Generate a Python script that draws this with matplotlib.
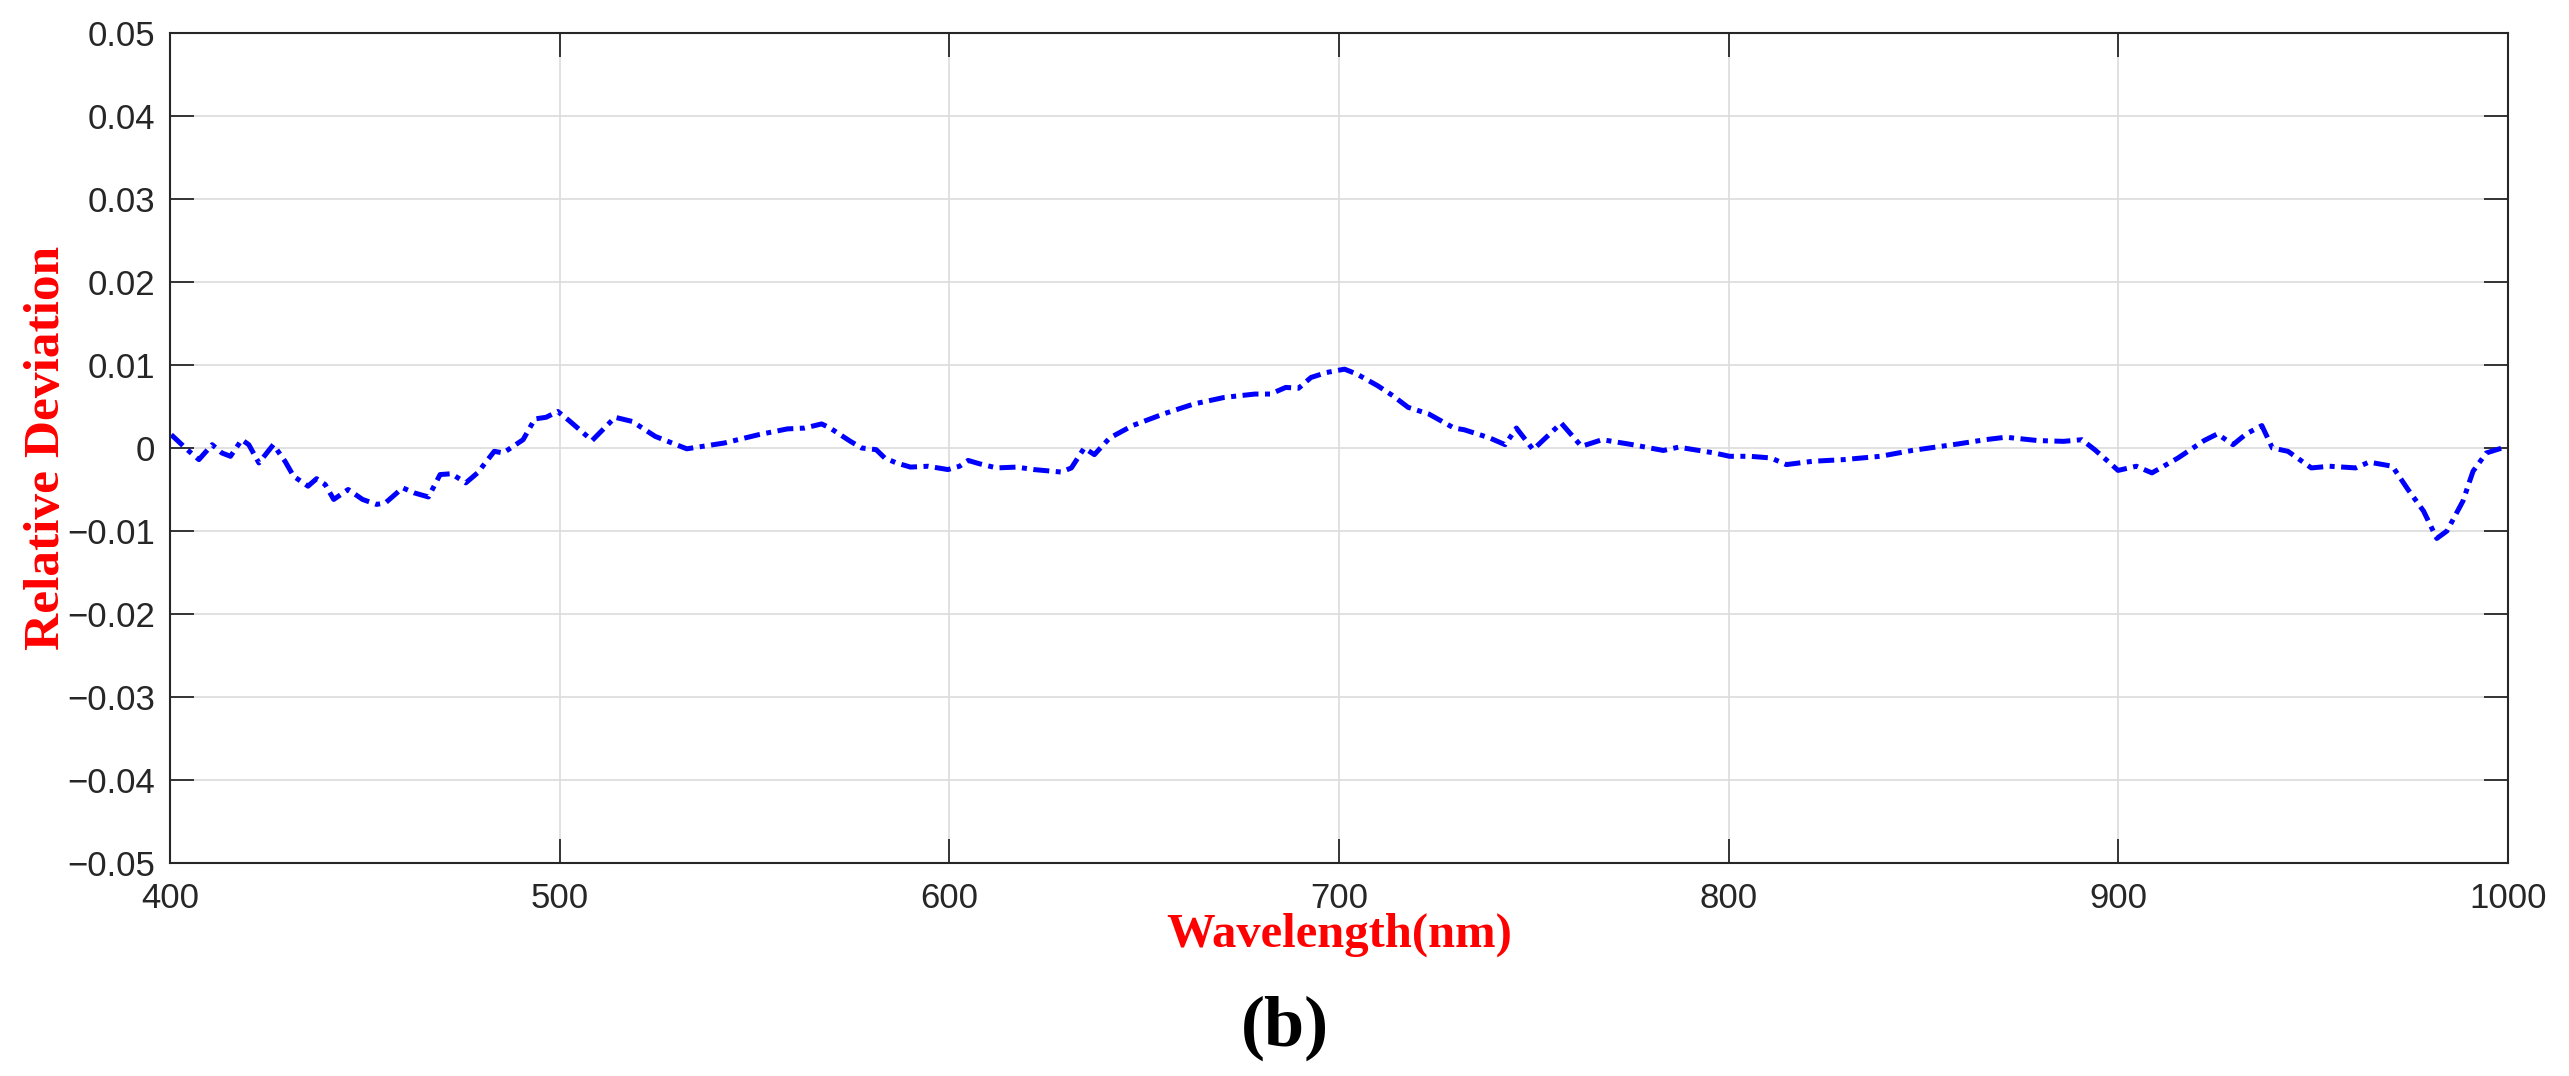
import numpy as np
import matplotlib
matplotlib.use('Agg')
import matplotlib.pyplot as plt

# datos
wavelength = [400.3, 404.4, 407.4, 410.8, 413.3, 415.5, 418.4, 420.2, 422.8, 426.5,
              429.5, 431.7, 435.4, 437.6, 439.8, 442.0, 445.7, 449.4, 453.0, 455.3,
              459.7, 462.6, 466.3, 469.3, 472.2, 475.9, 478.9, 483.2, 485.5, 490.6,
              493.6, 496.5, 499.5, 502.4, 508.3, 514.2, 518.6, 524.5, 532.6, 542.2,
              551.0, 558.4, 562.8, 567.2, 569.4, 574.6, 577.5, 581.2, 583.4, 586.4,
              590.0, 594.5, 599.6, 602.6, 604.8, 607.7, 612.1, 617.3, 621.7, 628.7,
              631.3, 634.6, 637.2, 641.1, 647.0, 654.9, 662.7, 670.6, 678.4, 682.4,
              686.3, 689.6, 692.8, 696.8, 701.4, 704.6, 709.9, 713.8, 717.7, 723.0,
              729.5, 732.1, 738.7, 742.6, 745.5, 749.8, 757.0, 762.2, 767.5, 775.3,
              783.2, 787.1, 796.3, 800.2, 805.4, 810.8, 814.8, 821.5, 829.5, 838.9,
              847.0, 859.0, 865.8, 871.1, 879.2, 885.9, 890.6, 893.9, 897.3, 899.9,
              904.6, 908.6, 915.3, 922.0, 925.4, 929.4, 932.8, 936.8, 939.5, 943.5,
              949.5, 954.2, 960.9, 964.3, 970.3, 974.3, 978.3, 981.7, 984.3, 988.4,
              991.0, 994.4, 999.8]
deviation = [0.0016, -0.0002, -0.0014, 0.0004, -0.0006, -0.0010, 0.0010, 0.0004, -0.0018, 0.0004,
             -0.0016, -0.0034, -0.0046, -0.0037, -0.0044, -0.0062, -0.0050, -0.0062, -0.0068, -0.0066,
             -0.0048, -0.0054, -0.0059, -0.0032, -0.0031, -0.0042, -0.0030, -0.0004, -0.0006, 0.0010,
             0.0035, 0.0037, 0.0044, 0.0033, 0.0009, 0.0037, 0.0032, 0.0014, -0.0001, 0.0006,
             0.0016, 0.0023, 0.0024, 0.0029, 0.0024, 0.0008, 0.0000, -0.0002, -0.0012, -0.0018,
             -0.0023, -0.0022, -0.0026, -0.0022, -0.0015, -0.0019, -0.0024, -0.0023, -0.0026, -0.0029,
             -0.0024, 0.0000, -0.0008, 0.0012, 0.0027, 0.0041, 0.0053, 0.0061, 0.0065, 0.0065,
             0.0073, 0.0072, 0.0085, 0.0091, 0.0095, 0.0089, 0.0075, 0.0063, 0.0049, 0.0041,
             0.0024, 0.0022, 0.0012, 0.0004, 0.0024, -0.0002, 0.0030, 0.0002, 0.0010, 0.0004,
             -0.0003, 0.0001, -0.0006, -0.0010, -0.0010, -0.0012, -0.0020, -0.0016, -0.0014, -0.0010,
             -0.0003, 0.0005, 0.0010, 0.0013, 0.0009, 0.0008, 0.0010, -0.0002, -0.0016, -0.0027,
             -0.0022, -0.0030, -0.0012, 0.0009, 0.0017, 0.0004, 0.0017, 0.0027, 0.0000, -0.0004,
             -0.0024, -0.0022, -0.0024, -0.0017, -0.0022, -0.0050, -0.0076, -0.0109, -0.0100, -0.0064,
             -0.0028, -0.0006, 0.0002]

xticks = [400, 500, 600, 700, 800, 900, 1000]
yticks = [-0.05, -0.04, -0.03, -0.02, -0.01, 0, 0.01, 0.02, 0.03, 0.04, 0.05]
ytick_labels = ['\u22120.05', '\u22120.04', '\u22120.03', '\u22120.02', '\u22120.01', '0',
                '0.01', '0.02', '0.03', '0.04', '0.05']

fig = plt.figure(figsize=(25.69, 10.76), dpi=100)
ax = fig.add_axes([0.0662, 0.1980, 0.9101, 0.7713])

ax.plot(wavelength, deviation, color='#0000ff', lw=3.6, linestyle=(0, (3.2, 1.3, 1.0, 1.3)))

ax.set_xlim(400, 1000)
ax.set_ylim(-0.05, 0.05)
ax.set_xticks(xticks)
ax.set_xticklabels([str(x) for x in xticks])
ax.set_yticks(yticks)
ax.set_yticklabels(ytick_labels)

ax.grid(True, color='#dcdcdc', lw=1.2)
ax.set_axisbelow(True)

ax.tick_params(direction='in', length=17, width=1.3, colors='#262626',
               top=True, right=True, labelsize=25, pad=11)
ax.tick_params(axis='x', pad=14)
for lab in ax.get_xticklabels() + ax.get_yticklabels():
    lab.set_fontfamily('Liberation Sans')
for s in ax.spines.values():
    s.set_color('#262626')
    s.set_linewidth(1.5)

ax.set_xlabel('Wavelength(nm)', color='red', fontsize=35, fontweight='bold',
              fontfamily='Liberation Serif', va='baseline')
ax.xaxis.set_label_coords(0.5, -0.101)
ax.set_ylabel('Relative Deviation', color='red', fontsize=37, fontweight='bold',
              fontfamily='Liberation Serif', va='center')
ax.yaxis.set_label_coords(-0.0525, 0.5)

fig.text(0.5, 0.0446, '(b)', ha='center', va='center', fontsize=52,
         fontweight='bold', fontfamily='Liberation Serif')

fig.savefig('out.png', dpi=100)
